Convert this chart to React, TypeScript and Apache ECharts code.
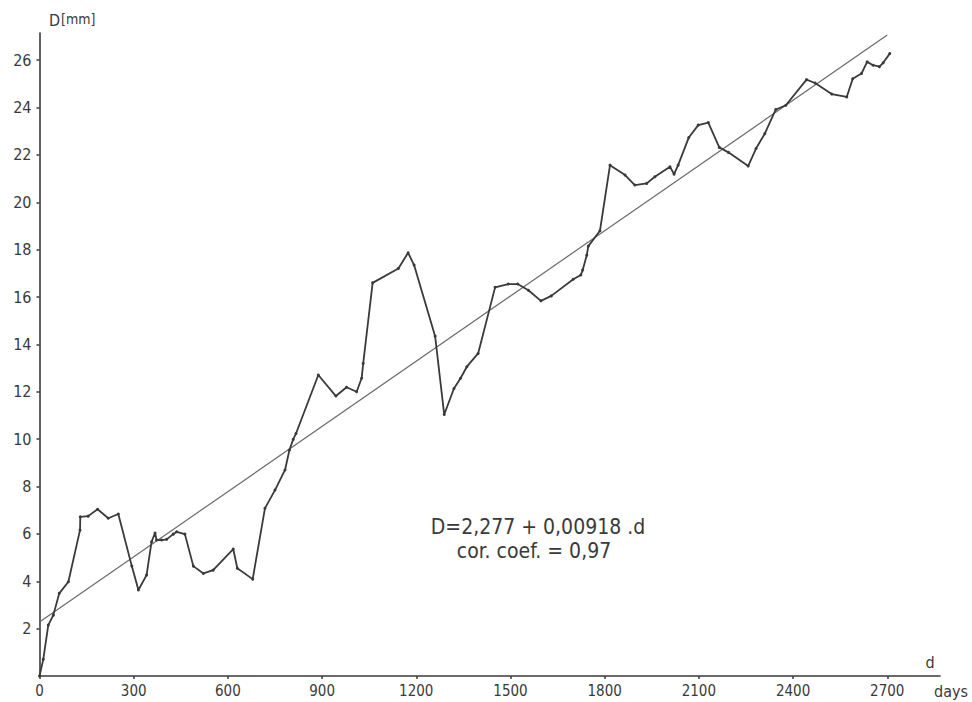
import React, { useEffect, useRef } from "react";
import * as echarts from "echarts";

// Measured diameter D [mm] against elapsed time [days]
const days: number[] = [
  0, 12, 28, 44, 63, 92, 129, 130, 155, 185, 219, 251, 294, 315, 341, 357, 368, 373, 389, 405,
  426, 437, 463, 490, 522, 553, 617, 630, 679, 718, 750, 782, 796, 808, 817, 888, 944, 978,
  1010, 1026, 1031, 1061, 1143, 1174, 1193, 1260, 1289, 1320, 1341, 1361, 1397, 1451, 1493,
  1523, 1557, 1597, 1630, 1700, 1724, 1730, 1743, 1748, 1785, 1817, 1865, 1896, 1934, 1960,
  2008, 2021, 2034, 2068, 2098, 2130, 2165, 2194, 2257, 2282, 2310, 2345, 2377, 2443, 2470,
  2523, 2571, 2590, 2618, 2636, 2655, 2675, 2687, 2708,
];
const diameter: number[] = [
  0.0, 0.7, 2.15, 2.57, 3.49, 3.98, 6.16, 6.72, 6.75, 7.04, 6.66, 6.84, 4.64, 3.63, 4.26, 5.67,
  6.04, 5.74, 5.74, 5.77, 5.99, 6.09, 5.99, 4.64, 4.33, 4.47, 5.36, 4.55, 4.09, 7.08, 7.85, 8.7,
  9.54, 9.99, 10.24, 12.71, 11.82, 12.19, 12.0, 12.57, 13.2, 16.6, 17.21, 17.87, 17.35, 14.35,
  11.04, 12.14, 12.57, 13.06, 13.62, 16.41, 16.55, 16.55, 16.29, 15.84, 16.05, 16.75, 16.93,
  17.14, 17.77, 18.15, 18.8, 21.57, 21.15, 20.73, 20.8, 21.08, 21.5, 21.19, 21.57, 22.74,
  23.26, 23.37, 22.32, 22.11, 21.53, 22.27, 22.9, 23.92, 24.1, 25.18, 25.04, 24.57, 24.45,
  25.22, 25.44, 25.93, 25.79, 25.73, 25.89, 26.28,
];

// Fitted regression D = a + b·d
const INTERCEPT = 2.277;
const SLOPE = 0.00918;
const FIT_RANGE: number[] = [0, 2700];

const xTicks: number[] = [0, 300, 600, 900, 1200, 1500, 1800, 2100, 2400, 2700];
const yTicks: number[] = [2, 4, 6, 8, 10, 12, 14, 16, 18, 20, 22, 24, 26];

const formulaText = "D=2,277 + 0,00918 .d";
const corrText = "cor. coef. = 0,97";

const FONT = "'Liberation Sans Narrow', 'DejaVu Sans Condensed', 'Roboto Condensed', sans-serif";
const INK = "#3a3a3a";

export default function App() {
  const ref = useRef<HTMLDivElement>(null);

  useEffect(() => {
    if (!ref.current) return;
    const chart = echarts.init(ref.current, undefined, { renderer: "svg" });

    const measured = days.map((d, i) => [d, diameter[i]]);
    const fit = FIT_RANGE.map((d) => [d, INTERCEPT + SLOPE * d]);

    chart.setOption({
      animation: false,
      backgroundColor: "#ffffff",
      grid: { left: 39.5, right: 32, top: 33, bottom: 26, containLabel: false },
      xAxis: {
        type: "value",
        min: 0,
        max: 2868,
        splitLine: { show: false },
        axisLine: { show: true, lineStyle: { color: INK, width: 1.6 } },
        axisTick: {
          show: true,
          inside: false,
          length: 3,
          customValues: xTicks,
          lineStyle: { color: INK, width: 1.5 },
        },
        axisLabel: {
          customValues: xTicks,
          formatter: (v: number) => String(v),
          margin: 7,
          color: INK,
          fontFamily: FONT,
          fontSize: 15,
        },
      },
      yAxis: {
        type: "value",
        min: 0,
        max: 27.15,
        splitLine: { show: false },
        axisLine: { show: true, lineStyle: { color: INK, width: 1.6 } },
        axisTick: {
          show: true,
          inside: false,
          length: 3,
          customValues: yTicks,
          lineStyle: { color: INK, width: 1.5 },
        },
        axisLabel: {
          customValues: yTicks,
          formatter: (v: number) => String(v),
          margin: 8,
          color: INK,
          fontFamily: FONT,
          fontSize: 16,
        },
      },
      series: [
        {
          type: "line",
          name: "fit",
          data: fit,
          symbol: "none",
          lineStyle: { color: "#6a6a6a", width: 1.2 },
          z: 2,
        },
        {
          type: "line",
          name: "D",
          data: measured,
          symbol: "circle",
          symbolSize: 3,
          itemStyle: { color: INK },
          lineStyle: { color: INK, width: 1.8 },
          z: 3,
        },
      ],
      graphic: [
        {
          type: "text",
          left: 49,
          top: 12,
          style: {
            text: "{a|D}{b|[mm]}",
            rich: {
              a: { fontFamily: FONT, fontSize: 16, fill: INK },
              b: { fontFamily: FONT, fontSize: 14, fill: INK, padding: [0, 0, 3, 1] },
            },
          },
        },
        {
          type: "text",
          x: 930,
          y: 662,
          style: {
            text: "d",
            fontFamily: FONT,
            fontSize: 16,
            fill: INK,
            align: "center",
            verticalAlign: "middle",
          },
        },
        {
          type: "text",
          x: 934,
          y: 691,
          style: {
            text: "days",
            fontFamily: FONT,
            fontSize: 16,
            fill: INK,
            align: "left",
            verticalAlign: "middle",
          },
        },
        {
          type: "text",
          x: 538,
          y: 527,
          style: {
            text: formulaText,
            fontFamily: FONT,
            fontSize: 21,
            fill: INK,
            align: "center",
            verticalAlign: "middle",
          },
        },
        {
          type: "text",
          x: 534,
          y: 551,
          style: {
            text: corrText,
            fontFamily: FONT,
            fontSize: 21,
            fill: INK,
            align: "center",
            verticalAlign: "middle",
          },
        },
      ],
    });

    return () => chart.dispose();
  }, []);

  return (
    <div
      ref={ref}
      style={{ position: "fixed", left: 0, top: 0, width: 972, height: 702, background: "#fff" }}
    />
  );
}
